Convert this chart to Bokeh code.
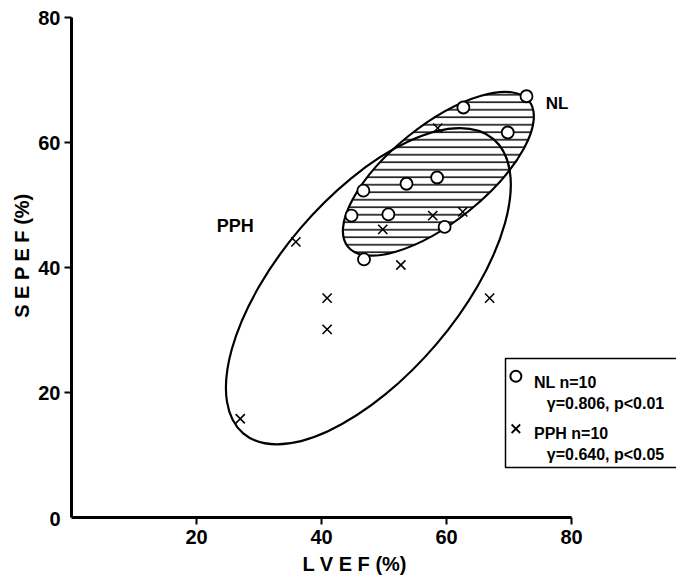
import math
from bokeh.plotting import figure
from bokeh.models import Range1d, FixedTicker
from bokeh.core.properties import value
from bokeh.embed import file_html
from bokeh.resources import INLINE

# ---- data ----
nl_lvef = [72.8, 62.7, 69.8, 58.5, 53.6, 46.7, 44.8, 50.7, 59.7, 46.8]
nl_sepef = [67.4, 65.6, 61.6, 54.4, 53.4, 52.3, 48.3, 48.5, 46.5, 41.3]
pph_lvef = [27.0, 35.9, 40.9, 40.9, 49.8, 52.7, 57.8, 58.6, 62.6, 66.9]
pph_sepef = [15.8, 44.1, 35.1, 30.1, 46.1, 40.4, 48.3, 62.3, 48.9, 35.1]

# ellipses: centre x, centre y, major axis, minor axis, angle (deg)
nl_ellipse = [58.7, 55.0, 37.2, 15.4, 38.8]
pph_ellipse = [47.5, 37.0, 61.8, 28.6, 49.6]

x_ticks = [20, 40, 60, 80]
y_ticks = [20, 40, 60, 80]
x_title = "L V E F (%)"
y_title = "S E P E F (%)"
group_labels = ["NL", "PPH"]
group_label_x = [77.7, 26.2]
group_label_y = [66.2, 46.7]
group_label_size = ["17px", "18px"]

legend_lines = ["NL n=10", "γ=0.806, p<0.01", "PPH n=10", "γ=0.640, p<0.05"]
legend_text_x = [74.0, 76.05, 74.0, 76.05]
legend_text_y = [21.65, 18.29, 13.39, 10.03]
legend_box = [69.44, 120.0, 25.44, 8.0]  # left, right, top, bottom

FONT = "'Liberation Sans Narrow', 'Liberation Sans', sans-serif"

# frame covers the whole canvas: 6.25 px per unit, origin at (71, 517) px
p = figure(width=676, height=578, x_range=Range1d(-11.36, 96.8), y_range=Range1d(-9.76, 82.72),
           output_backend="svg", toolbar_location=None,
           min_border_left=0, min_border_right=0, min_border_top=0, min_border_bottom=0)
p.outline_line_color = None
p.xgrid.visible = False
p.ygrid.visible = False
p.background_fill_color = "white"
p.border_fill_color = "white"

for ax, ticks in ((p.xaxis[0], x_ticks), (p.yaxis[0], y_ticks)):
    ax.fixed_location = 0
    ax.ticker = FixedTicker(ticks=ticks)
    ax.bounds = (0, 80)
    ax.axis_line_width = 3
    ax.axis_line_color = "black"
    ax.major_tick_line_width = 2
    ax.major_tick_line_color = "black"
    ax.major_tick_out = 7
    ax.major_tick_in = 0
    ax.minor_tick_line_color = None
    ax.major_label_text_font = FONT
    ax.major_label_text_font_style = "bold"
    ax.major_label_text_font_size = "20px"
    ax.major_label_text_color = "black"
p.xaxis[0].major_label_standoff = 5
p.yaxis[0].major_label_standoff = 4

# hatched NL ellipse
p.ellipse(x=[nl_ellipse[0]], y=[nl_ellipse[1]], width=[nl_ellipse[2]], height=[nl_ellipse[3]],
          angle=[math.radians(nl_ellipse[4])], fill_color=None, line_color=None,
          hatch_pattern="horizontal_line", hatch_scale=7.5, hatch_weight=1.5, hatch_color="black")
# outlines
p.ellipse(x=[pph_ellipse[0]], y=[pph_ellipse[1]], width=[pph_ellipse[2]], height=[pph_ellipse[3]],
          angle=[math.radians(pph_ellipse[4])], fill_color=None, line_color="black", line_width=2.2)
p.ellipse(x=[nl_ellipse[0]], y=[nl_ellipse[1]], width=[nl_ellipse[2]], height=[nl_ellipse[3]],
          angle=[math.radians(nl_ellipse[4])], fill_color=None, line_color="black", line_width=2.2)

# points
p.scatter(pph_lvef, pph_sepef, marker="x", size=13, line_color="black", line_width=1.6)
p.scatter(nl_lvef, nl_sepef, marker="circle", size=12, fill_color="white",
          line_color="black", line_width=1.8)

# group labels
p.text(x=group_label_x, y=group_label_y, text=group_labels, text_font=value(FONT),
       text_font_style="bold", text_font_size=group_label_size, text_align="center",
       text_baseline="middle", text_color="black")

# legend box
p.quad(left=[legend_box[0]], right=[legend_box[1]], top=[legend_box[2]], bottom=[legend_box[3]],
       fill_color="white", line_color="black", line_width=1.5)
p.scatter([71.1], [22.6], marker="circle", size=11, fill_color="white", line_color="black", line_width=2)
p.scatter([71.1], [14.2], marker="x", size=12, line_color="black", line_width=1.8)
p.text(x=legend_text_x, y=legend_text_y, text=legend_lines, text_font=value(FONT),
       text_font_style="bold", text_font_size="16px", text_align="left",
       text_baseline="alphabetic", text_color="black")

# axis titles and the 0 label
p.text(x=[45.3], y=[-7.36], text=[x_title], text_font=value(FONT), text_font_style="bold",
       text_font_size="20px", text_align="center", text_baseline="middle", text_color="black")
p.text(x=[-8.0], y=[41.9], text=[y_title], text_font=value(FONT), text_font_style="bold",
       text_font_size="20px", text_align="center", text_baseline="middle",
       angle=math.pi / 2, text_color="black")
p.text(x=[-1.76], y=[-0.3], text=["0"], text_font=value(FONT), text_font_style="bold",
       text_font_size="20px", text_align="right", text_baseline="middle", text_color="black")

open("out.html", "w").write(file_html(p, INLINE))
